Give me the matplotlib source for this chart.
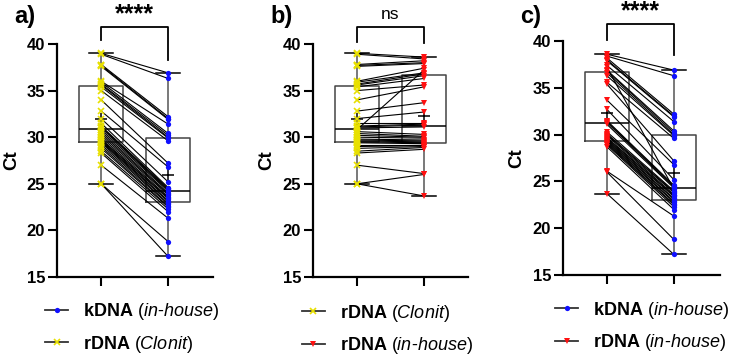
import matplotlib
matplotlib.use("Agg")
import matplotlib.pyplot as plt
from matplotlib.lines import Line2D

plt.rcParams["font.family"] = ["Liberation Sans", "DejaVu Sans"]
plt.rcParams["mathtext.fontset"] = "custom"
plt.rcParams["mathtext.rm"] = "Liberation Sans"
plt.rcParams["mathtext.bf"] = "Liberation Sans:bold"
plt.rcParams["mathtext.it"] = "Liberation Sans:italic"

# Ct values per sample (same sample order in every list)
clonit = [39.0, 38.9, 37.8, 37.7, 37.6, 36.0, 35.9, 35.7, 35.6, 35.4, 35.0, 34.0,
          32.8, 32.0, 31.5, 31.2, 31.1, 31.0, 30.8, 30.6, 30.4, 30.2, 30.0, 29.8,
          29.7, 29.6, 29.5, 29.4, 29.2, 29.0, 28.8, 28.5, 28.3, 27.0, 25.0, 25.0]
kdna = [36.9, 36.3, 32.2, 32.0, 31.9, 31.4, 30.4, 30.2, 30.0, 29.9, 29.6, 27.2,
        26.8, 25.2, 24.6, 24.5, 24.4, 24.3, 24.2, 24.0, 23.9, 23.8, 23.6, 23.5,
        23.4, 23.2, 23.1, 22.9, 22.8, 22.6, 22.5, 22.3, 22.0, 21.3, 18.8, 17.2]
inhouse = [38.6, 38.4, 38.2, 38.0, 37.9, 37.4, 36.9, 36.8, 36.6, 36.3, 35.6, 35.4,
           33.7, 32.7, 31.5, 31.4, 31.3, 31.1, 37.2, 30.3, 30.1, 30.0, 29.9, 29.7,
           29.6, 29.5, 29.4, 29.3, 29.2, 29.1, 29.0, 28.9, 28.7, 26.1, 26.0, 23.7]

LBL_KDNA = r"$\mathbf{kDNA}$ ($\mathit{in}$-$\mathit{house}$)"
LBL_CLONIT = r"$\mathbf{rDNA}$ ($\mathit{Clonit}$)"
LBL_INHOUSE = r"$\mathbf{rDNA}$ ($\mathit{in}$-$\mathit{house}$)"

STYLE = {
    "clonit": dict(marker="x", color="#e8e000", ms=4.5, mew=1.2),
    "kdna": dict(marker="o", color="#1010ff", ms=3.8, mew=0),
    "inhouse": dict(marker="v", color="#ff1010", ms=4.2, mew=0),
}
DATA = {"clonit": clonit, "kdna": kdna, "inhouse": inhouse}
LABELS = {"clonit": LBL_CLONIT, "kdna": LBL_KDNA, "inhouse": LBL_INHOUSE}

panels = [
    # letter, axes rect, left series, right series, sig text, bracket legs, legend order, legend pos, xlim
    ("a)", [0.0777, 0.2219, 0.2125, 0.6545], "clonit", "kdna", "****", (40.4, 38.3),
     ["kdna", "clonit"], (0.061, 0.155), (0.34, 2.67)),
    ("b)", [0.4264, 0.2219, 0.2112, 0.6545], "clonit", "inhouse", "ns", (40.2, 40.1),
     ["clonit", "inhouse"], (0.411, 0.150), (0.343, 2.66)),
    ("c)", [0.7670, 0.2275, 0.2139, 0.6570], "inhouse", "kdna", "****", (40.1, 38.5),
     ["kdna", "inhouse"], (0.756, 0.158), (0.343, 2.69)),
]

fig = plt.figure(figsize=(7.34, 3.56), dpi=100)

for letter, rect, left, right, sig, legs, leg_order, leg_pos, xlim in panels:
    ax = fig.add_axes(rect)
    lv, rv = DATA[left], DATA[right]

    ax.boxplot([lv, rv], positions=[1, 2], widths=0.65, whis=(0, 100),
               showmeans=True, showfliers=False, capwidths=0.36,
               boxprops=dict(color="#444444", lw=1.1),
               medianprops=dict(color="black", lw=1.1),
               whiskerprops=dict(color="#555555", lw=1.1),
               capprops=dict(color="black", lw=1.1),
               meanprops=dict(marker="+", markeredgecolor="black", markersize=8,
                              markeredgewidth=1.1),
               zorder=2)

    for a, b in zip(lv, rv):
        ax.plot([1, 2], [a, b], color="black", lw=0.8, zorder=3)
    ax.plot([1] * len(lv), lv, ls="none", zorder=4, **STYLE[left])
    ax.plot([2] * len(rv), rv, ls="none", zorder=4, **STYLE[right])

    ax.set_xlim(*xlim)
    ax.set_ylim(15, 40)
    ax.set_yticks([15, 20, 25, 30, 35, 40])
    ax.set_xticks([1, 2])
    ax.set_xticklabels([])
    for s in ["top", "right"]:
        ax.spines[s].set_visible(False)
    for s in ["left", "bottom"]:
        ax.spines[s].set_linewidth(1.6)
    ax.tick_params(axis="both", width=1.5, length=6.5, pad=2)
    for t in ax.get_yticklabels():
        t.set_fontweight("bold")
        t.set_fontsize(12)
    ax.set_ylabel("Ct", fontsize=13.5, fontweight="bold", labelpad=5)

    # significance bracket
    top = 41.8
    ax.plot([1, 1, 2, 2], [legs[0], top, top, legs[1]], color="black", lw=1.3,
            clip_on=False, zorder=5)
    if sig == "ns":
        ax.text(1.5, top + 0.6, sig, ha="center", va="bottom", fontsize=12.5)
    else:
        ax.text(1.5, top + 0.1, sig, ha="center", va="bottom", fontsize=18,
                fontweight="bold")

    fig.text(rect[0] - 0.058, 0.955, letter, fontsize=17, fontweight="bold",
             ha="left", va="center")

    handles = []
    for key in leg_order:
        st = STYLE[key]
        handles.append(Line2D([], [], color="#333333", lw=1.3, marker=st["marker"],
                              markerfacecolor=st["color"], markeredgecolor=st["color"],
                              markersize=st["ms"], markeredgewidth=st["mew"]))
    ax.legend(handles, [LABELS[k] for k in leg_order], loc="upper left",
              bbox_to_anchor=leg_pos, bbox_transform=fig.transFigure,
              frameon=False, fontsize=13, handlelength=1.3, handletextpad=0.8,
              labelspacing=0.65, borderpad=0, borderaxespad=0)

fig.savefig("out.png", dpi=100)
